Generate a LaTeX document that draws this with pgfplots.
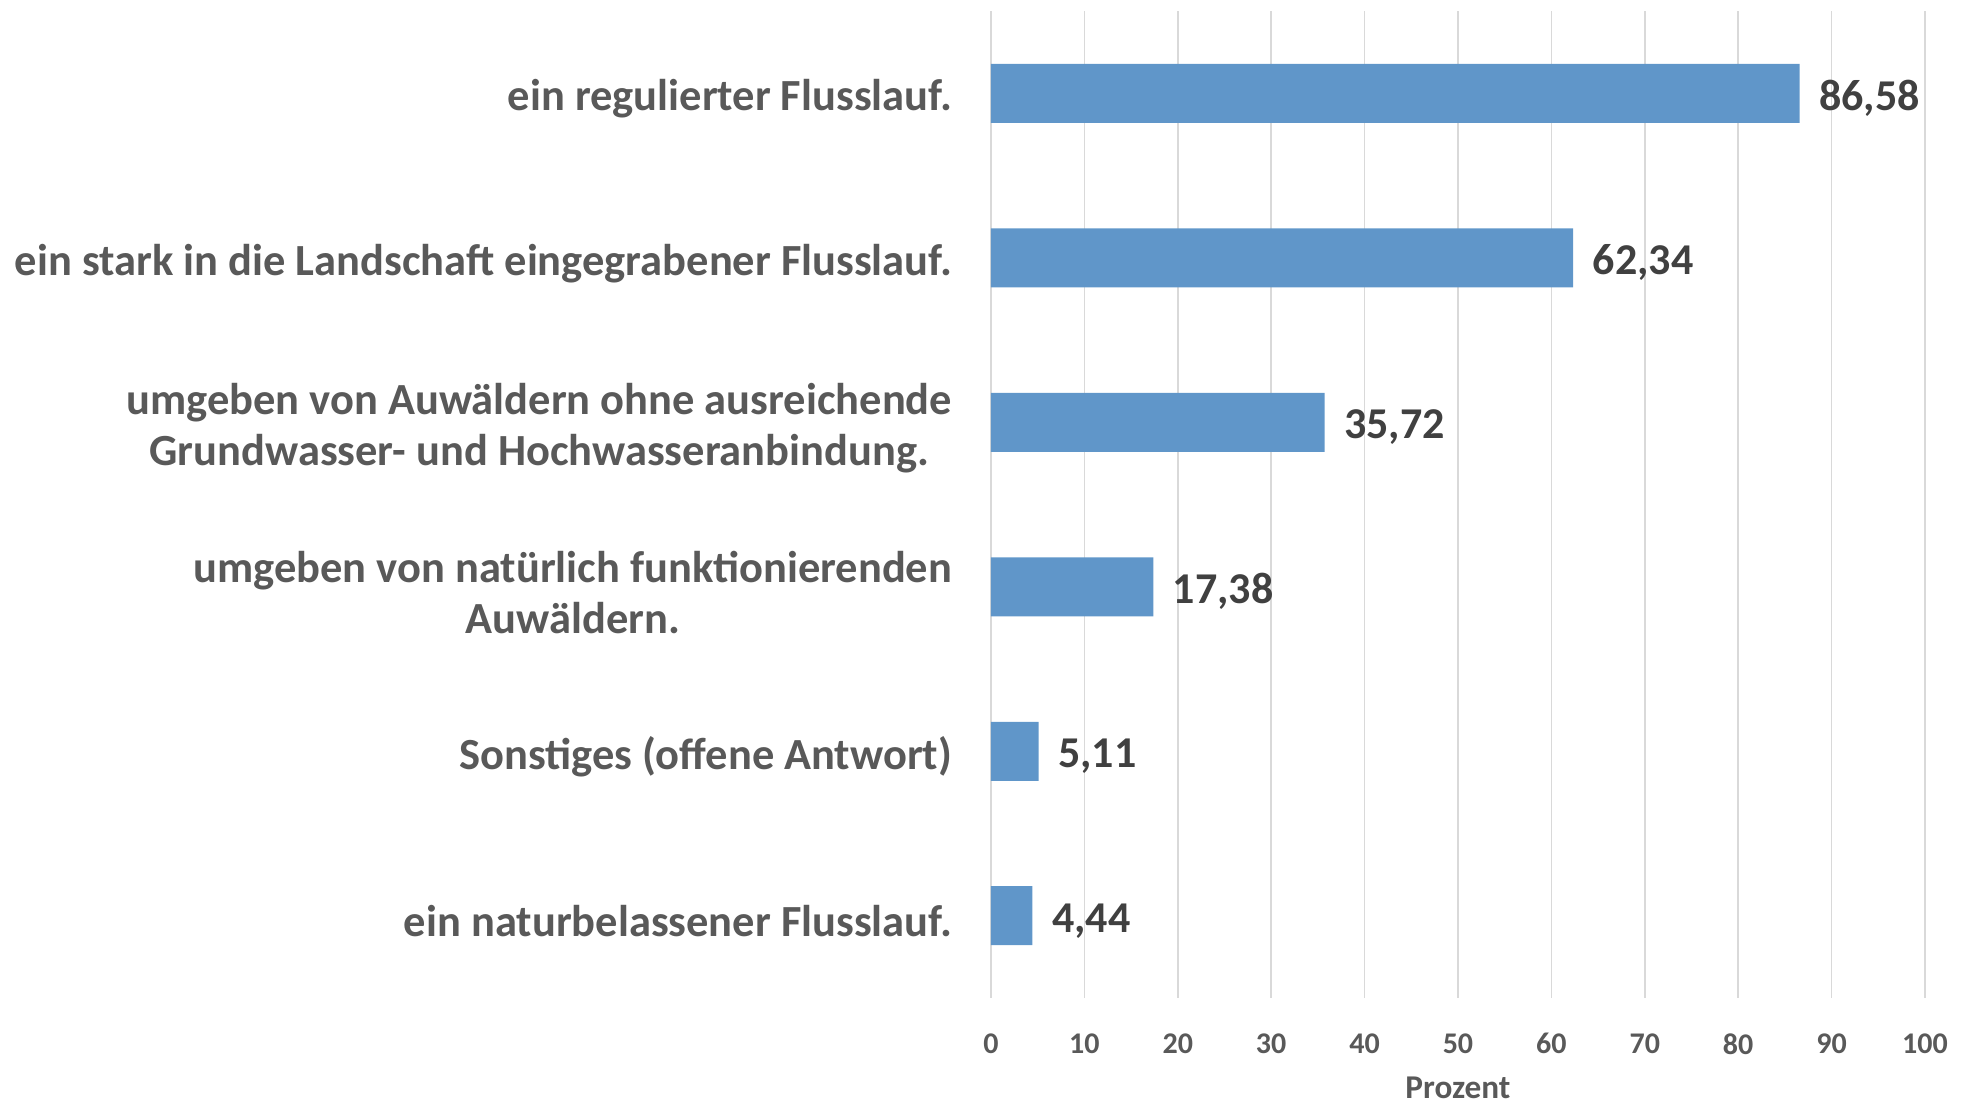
\documentclass[border=0pt]{standalone}
\usepackage{pgfplots}
\pgfplotsset{compat=1.18}
\usepackage{fontspec}
\setmainfont{Carlito}
\definecolor{barblue}{RGB}{96,150,201}
\definecolor{gridgray}{RGB}{217,217,217}
\definecolor{labgray}{RGB}{89,89,89}
\definecolor{valgray}{RGB}{64,64,64}
\begin{document}
\begin{tikzpicture}
\path[use as bounding box] (-396.4pt,-42.8pt) rectangle (391.6pt,399.2pt);
\begin{axis}[
  at={(0,0)}, anchor=south west,
  scale only axis,
  width=373.6pt, height=394.8pt,
  xbar,
  xmin=0, xmax=100, ymin=-0.5, ymax=5.5,
  bar width=23.6pt,
  xtick={0,10,...,100},
  ytick={0,1,2,3,4,5},
  yticklabels={
    ein naturbelassener Flusslauf.,
    Sonstiges (offene Antwort),
    {umgeben von natürlich funktionierenden\\Auwäldern.},
    {umgeben von Auwäldern ohne ausreichende\\Grundwasser- und Hochwasseranbindung.},
    ein stark in die Landschaft eingegrabener Flusslauf.,
    ein regulierter Flusslauf.},
  xmajorgrids,
  major grid style={gridgray, line width=0.6pt},
  axis line style={draw=none},
  major tick length=0pt,
  /pgf/number format/assume math mode=true,
  yticklabel style={font=\fontsize{17.8}{20.6}\selectfont\bfseries, align=center, text=labgray, anchor=east, xshift=-12pt, yshift=-2.3pt},
  xticklabel style={font=\fontsize{12}{14}\selectfont\bfseries, text=labgray, anchor=north, yshift=-10.6pt},
  xlabel={Prozent},
  xlabel style={at={(axis description cs:0.5,0)}, anchor=center, yshift=-35.8pt, font=\fontsize{13.3}{15}\selectfont\bfseries, text=labgray},
  point meta=x,
  nodes near coords={\pgfmathprintnumber[fixed,fixed zerofill,precision=2,use comma]{\pgfplotspointmeta}},
  nodes near coords style={font=\fontsize{17.6}{20}\selectfont\bfseries, text=valgray, anchor=west, xshift=4.3pt, yshift=-2pt},
]
\addplot[fill=barblue, draw=none] coordinates {
  (4.44,0) (5.11,1) (17.38,2) (35.72,3) (62.34,4) (86.58,5)
};
\end{axis}
\end{tikzpicture}
\end{document}
